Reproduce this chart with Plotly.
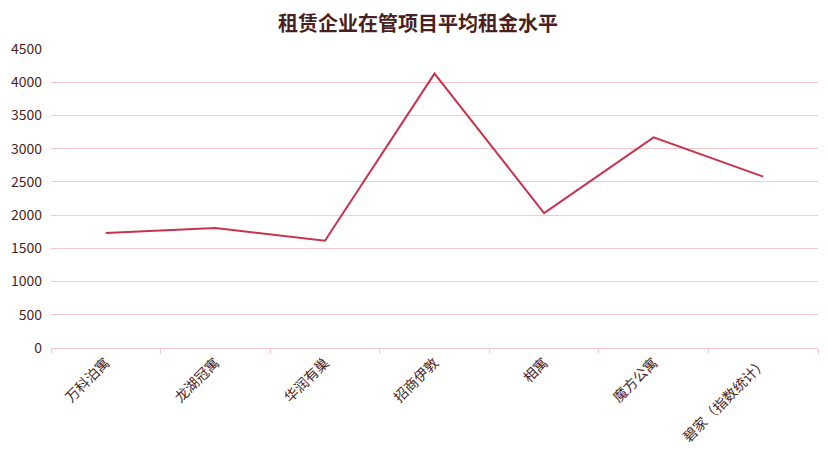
import plotly.graph_objects as go

categories = ["万科泊寓", "龙湖冠寓", "华润有巢", "招商伊敦", "相寓", "魔方公寓", "碧家（指数统计）"]
rent = [1730, 1805, 1615, 4130, 2030, 3170, 2580]
y_ticks = [0, 500, 1000, 1500, 2000, 2500, 3000, 3500, 4000, 4500]

FONT = "Noto Sans CJK SC, Noto Sans, sans-serif"
TEXT = "#4a1f22"
GRID = "#f8c8cc"

fig = go.Figure()
fig.add_trace(go.Scatter(
    x=categories, y=rent, mode="lines",
    line=dict(color="#c8334f", width=2),
    hoverinfo="x+y",
))

fig.update_layout(
    width=820, height=458,
    margin=dict(l=43, r=10, t=41, b=118),
    paper_bgcolor="white", plot_bgcolor="white",
    showlegend=False,
    title=dict(text="<b>租赁企业在管项目平均租金水平</b>", x=0.5, xanchor="center",
               y=1 - 16 / 458, yanchor="middle",
               font=dict(family=FONT, size=20, color=TEXT)),
    font=dict(family=FONT, color=TEXT, size=14),
    xaxis=dict(
        type="category", tickson="boundaries", ticks="outside", ticklen=5,
        tickcolor=GRID, showline=True, linecolor=GRID, linewidth=1,
        showgrid=False, tickangle=-45, automargin=False,
        tickfont=dict(family=FONT, size=14, color=TEXT),
        range=[-0.5, 6.5],
    ),
    yaxis=dict(
        range=[0, 4500], tickvals=y_ticks, showgrid=True, gridcolor=GRID,
        gridwidth=1, zeroline=False, showline=False, ticks="",
        automargin=False,
        tickfont=dict(family=FONT, size=14, color=TEXT),
        ticklabelstandoff=8,
    ),
)

fig.write_html("out.html")
